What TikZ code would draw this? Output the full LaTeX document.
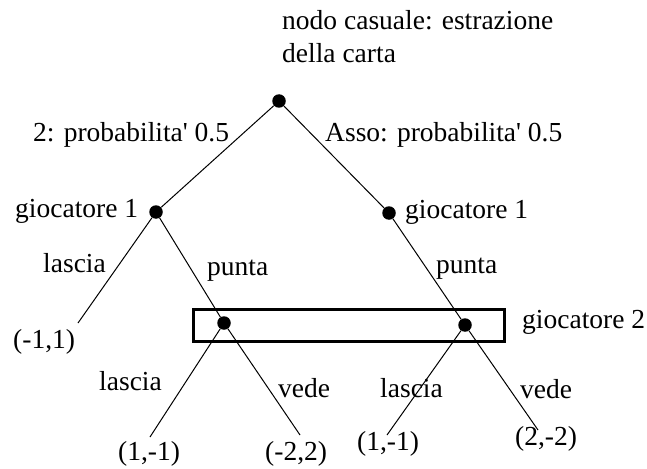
\documentclass[tikz,border=0pt]{standalone}
\usepackage{fontspec}
\setmainfont{Liberation Serif}
\begin{document}
\begin{tikzpicture}[x=1pt,y=-1pt,
  every node/.style={font=\fontsize{27.5pt}{33pt}\selectfont},
  lbl/.style={inner sep=0pt,anchor=base west},
  dot/.style={circle,fill=black,draw=none,minimum size=13.5pt,inner sep=0pt},
  edge/.style={line width=1pt},
  infoset/.style={draw,line width=3pt,minimum width=311pt,minimum height=32pt,inner sep=0pt}]
\useasboundingbox (0,0) rectangle (647,468);
% information set of player 2
\node[infoset] (box) at (348.5,325) {};
% decision nodes
\node[dot] (root) at (279,101) {};
\node[dot] (g1l) at (156,212) {};
\node[dot] (g1r) at (389,213) {};
\node[dot] (g2l) at (224,323) {};
\node[dot] (g2r) at (465,325) {};
% leaves
\coordinate (leafA) at (78,323);
\coordinate (leafB) at (150,437);
\coordinate (leafC) at (300,435);
\coordinate (leafD) at (387,435);
\coordinate (leafE) at (538,430);
% edges
\draw[edge] (root) -- (g1l);
\draw[edge] (root) -- (g1r);
\draw[edge] (g1l) -- (leafA);
\draw[edge] (g1l) -- (g2l);
\draw[edge] (g1r) -- (g2r);
\draw[edge] (g2l) -- (leafB);
\draw[edge] (g2l) -- (leafC);
\draw[edge] (g2r) -- (leafD);
\draw[edge] (g2r) -- (leafE);
% labels
\node[lbl] (t1) at (282,30) {nodo casuale: estrazione};
\node[lbl] (t2) at (282,63) {della carta};
\node[lbl] (p2) at (33,141) {2: probabilita\textquotesingle{} 0.5};
\node[lbl] (pA) at (325,141) {Asso: probabilita\textquotesingle{} 0.5};
\node[lbl] (n1l) at (15,217) {giocatore 1};
\node[lbl] (n1r) at (405,218) {giocatore 1};
\node[lbl] (la1) at (43,272) {lascia};
\node[lbl] (pu1) at (207,275) {punta};
\node[lbl] (pu2) at (436,273) {punta};
\node[lbl] (v1) at (13,348) {(-1,1)};
\node[lbl] (n2) at (522,328) {giocatore 2};
\node[lbl] (la2) at (99,390) {lascia};
\node[lbl] (ve2) at (278,397) {vede};
\node[lbl] (la3) at (380,397) {lascia};
\node[lbl] (ve3) at (520,398) {vede};
\node[lbl] (v2) at (118,460) {(1,-1)};
\node[lbl] (v3) at (265,460) {(-2,2)};
\node[lbl] (v4) at (357,450) {(1,-1)};
\node[lbl] (v5) at (515,445) {(2,-2)};
\end{tikzpicture}
\end{document}
